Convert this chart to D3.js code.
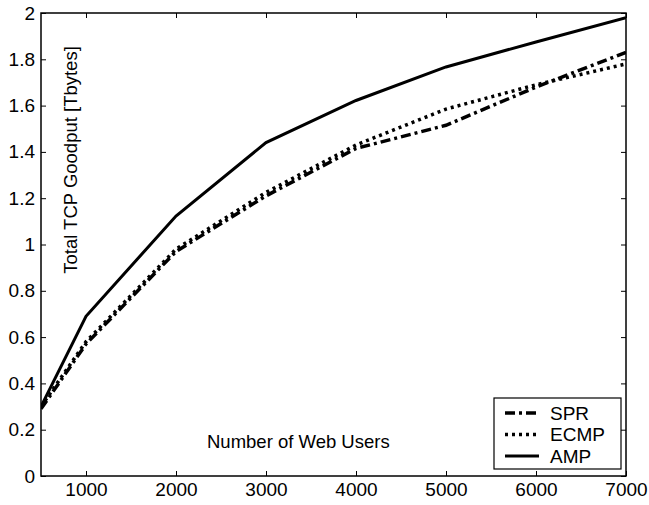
<!DOCTYPE html>
<html>
<head>
<meta charset="utf-8">
<script src="https://cdn.jsdelivr.net/npm/d3@7"></script>
<style>
  body { margin: 0; background: #fff; }
  text { font-family: Arial, "Liberation Sans", sans-serif; fill: #000; }
</style>
</head>
<body>
<div id="chart"></div>
<script>
(function() {
  "use strict";

  var users = [500, 1000, 2000, 3000, 4000, 5000, 6000, 7000];
  var spr = [0.29, 0.57, 0.97, 1.21, 1.415, 1.515, 1.68, 1.83];
  var ecmp = [0.30, 0.58, 0.98, 1.225, 1.43, 1.585, 1.69, 1.78];
  var amp = [0.30, 0.69, 1.123, 1.44, 1.622, 1.767, 1.875, 1.98];
  var xTicks = [1000, 2000, 3000, 4000, 5000, 6000, 7000];
  var yTicks = [0, 0.2, 0.4, 0.6, 0.8, 1, 1.2, 1.4, 1.6, 1.8, 2];

  var series = [
    { label: "SPR", values: spr, dash: "10,4,3,4" },
    { label: "ECMP", values: ecmp, dash: "3,4" },
    { label: "AMP", values: amp, dash: null }
  ];

  var width = 649, height = 505;
  var left = 41, right = 626, top = 13, bottom = 476;

  var svg = d3.select("#chart").append("svg")
    .attr("width", width)
    .attr("height", height);

  var x = d3.scaleLinear().domain([500, 7000]).range([left, right]);
  var y = d3.scaleLinear().domain([0, 2]).range([bottom, top]);

  // axes: ticks point inward, mirrored on top and right
  svg.append("g")
    .attr("transform", "translate(0," + bottom + ")")
    .call(d3.axisBottom(x).tickValues(xTicks).tickSizeInner(-5).tickSizeOuter(0)
      .tickPadding(7).tickFormat(d3.format("d")))
    .call(function(g) { g.select(".domain").remove(); })
    .selectAll("text").attr("font-size", 19).attr("dy", "0.71em");

  svg.append("g")
    .attr("transform", "translate(0," + top + ")")
    .call(d3.axisTop(x).tickValues(xTicks).tickSizeInner(-5).tickSizeOuter(0).tickFormat(""))
    .call(function(g) { g.select(".domain").remove(); });

  svg.append("g")
    .attr("transform", "translate(" + left + ",0)")
    .call(d3.axisLeft(y).tickValues(yTicks).tickSizeInner(-5).tickSizeOuter(0).tickPadding(6)
      .tickFormat(function(d) { return String(Math.round(d * 10) / 10); }))
    .call(function(g) { g.select(".domain").remove(); })
    .selectAll("text").attr("font-size", 19);

  svg.append("g")
    .attr("transform", "translate(" + right + ",0)")
    .call(d3.axisRight(y).tickValues(yTicks).tickSizeInner(-5).tickSizeOuter(0).tickFormat(""))
    .call(function(g) { g.select(".domain").remove(); });

  svg.selectAll(".tick line").attr("stroke", "#000");

  var line = d3.line()
    .x(function(d, i) { return x(users[i]); })
    .y(function(d) { return y(d); });

  svg.append("defs").append("clipPath").attr("id", "clip")
    .append("rect").attr("x", left).attr("y", top)
    .attr("width", right - left).attr("height", bottom - top);

  svg.append("g").attr("clip-path", "url(#clip)")
    .selectAll("path")
    .data(series)
    .enter()
    .append("path")
    .attr("fill", "none")
    .attr("stroke", "#000")
    .attr("stroke-width", function(d) { return d.dash ? 3.5 : 3; })
    .attr("stroke-dasharray", function(d) { return d.dash; })
    .attr("d", function(d) { return line(d.values); });

  // frame
  svg.append("rect")
    .attr("x", left).attr("y", top)
    .attr("width", right - left).attr("height", bottom - top)
    .attr("fill", "none").attr("stroke", "#000").attr("stroke-width", 1.5);

  // axis labels, placed inside the plot as in the original
  svg.append("text")
    .attr("transform", "translate(77,160) rotate(-90)")
    .attr("text-anchor", "middle")
    .attr("font-size", 18.5)
    .text("Total TCP Goodput [Tbytes]");

  svg.append("text")
    .attr("x", 207).attr("y", 448)
    .attr("font-size", 18.5)
    .text("Number of Web Users");

  /* ------- LEGEND ------- */
  var legend = svg.append("g");
  legend.append("rect")
    .attr("x", 494).attr("y", 398)
    .attr("width", 127).attr("height", 71)
    .attr("fill", "#fff").attr("stroke", "#000").attr("stroke-width", 1.2);

  var items = legend.selectAll("g.item")
    .data(series)
    .enter()
    .append("g")
    .attr("class", "item")
    .attr("transform", function(d, i) { return "translate(0," + (413 + i * 21.5) + ")"; });

  items.append("line")
    .attr("x1", 505).attr("x2", 539)
    .attr("stroke", "#000")
    .attr("stroke-width", function(d) { return d.dash ? 3.5 : 3; })
    .attr("stroke-dasharray", function(d) { return d.dash; });

  items.append("text")
    .attr("x", 550).attr("dy", "0.36em")
    .attr("font-size", 19)
    .text(function(d) { return d.label; });
})();
</script>
</body>
</html>
